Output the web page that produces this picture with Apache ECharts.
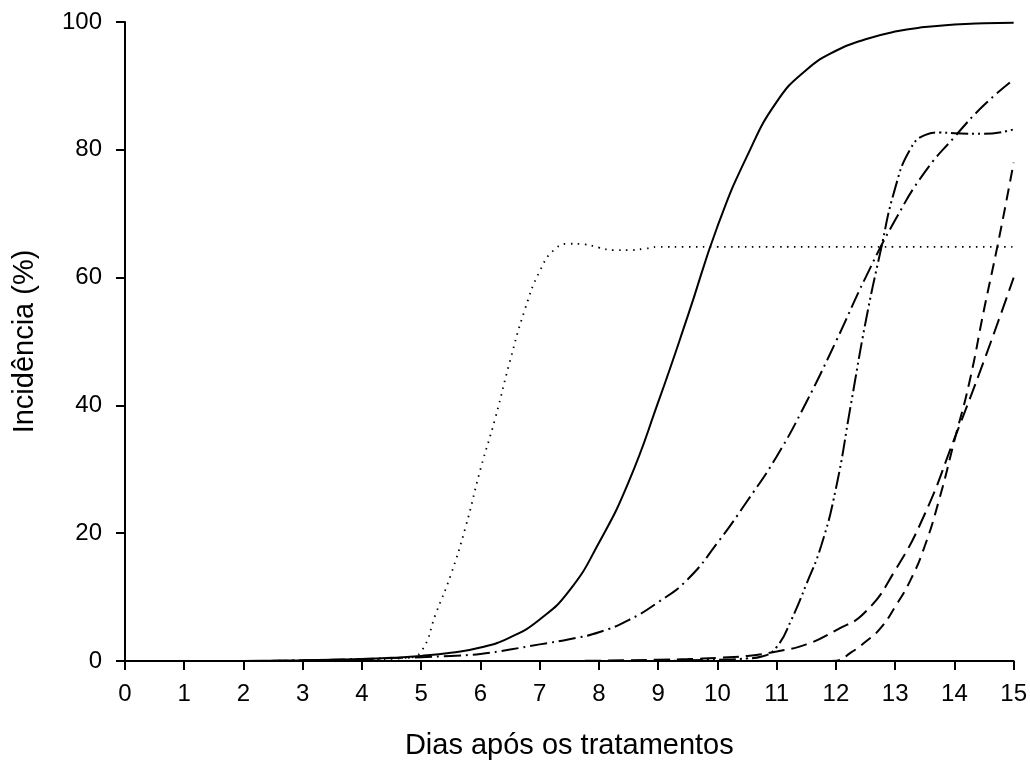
<!DOCTYPE html>
<html>
<head>
<meta charset="utf-8">
<script src="https://cdn.jsdelivr.net/npm/echarts@6/dist/echarts.min.js"></script>
<style>html,body{margin:0;padding:0;background:#fff}#c{width:1030px;height:765px}</style>
</head>
<body>
<div id="c"></div>
<script>
// Tick labels
const xTicks = [0,1,2,3,4,5,6,7,8,9,10,11,12,13,14,15];
const yTicks = [0,20,40,60,80,100];

// Solid line
const solidX = [0,0.5,1,1.5,2,2.5,3,3.5,4,4.5,5,5.5,6,6.5,7,7.5,8,8.5,9,9.5,10,10.5,11,11.5,12,12.5,13,13.5,14,14.5,15];
const solidY = [0,0,0,0,0,0.05,0.1,0.2,0.3,0.5,0.8,1.3,2.1,3.7,6.5,11,18.5,28,40.5,54,68,79,87.5,92.5,95.5,97.3,98.5,99.2,99.6,99.8,99.9];

// Dotted line
const dotX = [0,1,2,3,4,4.75,5,5.25,5.5,5.75,6,6.25,6.5,6.75,7,7.25,7.5,7.75,8,8.25,8.5,8.75,9,9.5,10,11,12,13,14,15];
const dotY = [0,0,0,0.1,0.2,0.5,1.5,7.5,13.5,21,30,38,47,55,61,64.4,65.3,65.2,64.7,64.3,64.3,64.5,64.8,64.8,64.8,64.8,64.8,64.8,64.8,64.8];

// Dash-dot line
const dashDotX = [0,1,2,3,4,4.5,5,5.5,6,6.5,7,7.5,8,8.5,9,9.5,10,10.5,11,11.5,12,12.5,13,13.5,14,14.5,15];
const dashDotY = [0,0,0,0.1,0.3,0.45,0.6,0.8,1.1,1.8,2.6,3.4,4.5,6.4,9.2,12.8,18.5,25,32,40.5,50,60,69,76.5,82,87,91];

// Dash-dot-dot line
const dashDotDotX = [0,2,4,6,8,9,9.5,10,10.5,10.75,11,11.25,11.5,11.75,12,12.25,12.5,12.75,13,13.25,13.5,13.75,14,14.5,15];
const dashDotDotY = [0,0,0,0,0,0,0.1,0.2,0.4,0.7,2.2,6.5,12,18,27,40,53,64,74,80,82.3,82.7,82.6,82.5,83.2];

// Long dash line
const longDashX = [0,2,4,6,7,8,9,9.5,10,10.5,11,11.5,12,12.5,13,13.5,14,14.5,15];
const longDashY = [0,0,0,0,0,0.05,0.2,0.3,0.5,0.8,1.5,2.6,4.8,7.7,14.2,23,34.8,47,60];

// Short dash line
const shortDashX = [0,2,4,6,8,10,11,11.75,12,12.25,12.5,12.75,13,13.25,13.5,13.75,14,14.25,14.5,14.75,15];
const shortDashY = [0,0,0,0,0,0,0,0,0.05,1.3,3,5.1,8.5,12.5,18,25.5,34.5,43.5,55,66,78];

const pairs = (xs, ys) => xs.map((x, i) => [x, ys[i]]);
const FONT = '"Liberation Sans", Arial, sans-serif';

function line(name, xs, ys, type, width) {
  return {
    name, type: 'line', data: pairs(xs, ys), smooth: true, symbol: 'none',
    lineStyle: { color: '#000', width: width, type: type, cap: 'butt' },
    silent: true, animation: false
  };
}

const chart = echarts.init(document.getElementById('c'), null, { renderer: 'canvas' });
chart.setOption({
  backgroundColor: '#fff',
  animation: false,
  grid: { left: 125, right: 16, top: 22, bottom: 104, containLabel: false },
  xAxis: {
    type: 'value', min: xTicks[0], max: xTicks[xTicks.length - 1], interval: 1,
    name: 'Dias após os tratamentos', nameLocation: 'middle', nameGap: 70,
    nameTextStyle: { color: '#000', fontSize: 29, fontFamily: FONT },
    axisLine: { onZero: false, lineStyle: { color: '#000', width: 2 } },
    axisTick: { show: true, inside: false, length: 9, lineStyle: { color: '#000', width: 2 } },
    axisLabel: { color: '#000', fontSize: 24, fontFamily: FONT, margin: 21 },
    splitLine: { show: false }
  },
  yAxis: {
    type: 'value', min: yTicks[0], max: yTicks[yTicks.length - 1], interval: 20,
    name: 'Incidência (%)', nameLocation: 'middle', nameGap: 86,
    nameTextStyle: { color: '#000', fontSize: 29, fontFamily: FONT },
    axisLine: { show: true, lineStyle: { color: '#000', width: 2 } },
    axisTick: { show: true, inside: false, length: 9, lineStyle: { color: '#000', width: 2 } },
    axisLabel: { color: '#000', fontSize: 24, fontFamily: FONT, margin: 23 },
    splitLine: { show: false }
  },
  series: [
    line('solid', solidX, solidY, 'solid', 2),
    line('dotted', dotX, dotY, [1.5, 5.5], 1.8),
    line('dashdot', dashDotX, dashDotY, [17, 5, 2, 5], 2),
    line('dashdotdot', dashDotDotX, dashDotDotY, [17, 4, 2, 4, 2, 4], 2),
    line('longdash', longDashX, longDashY, [16, 7], 2),
    line('shortdash', shortDashX, shortDashY, [12, 7], 2)
  ]
});
</script>
</body>
</html>
